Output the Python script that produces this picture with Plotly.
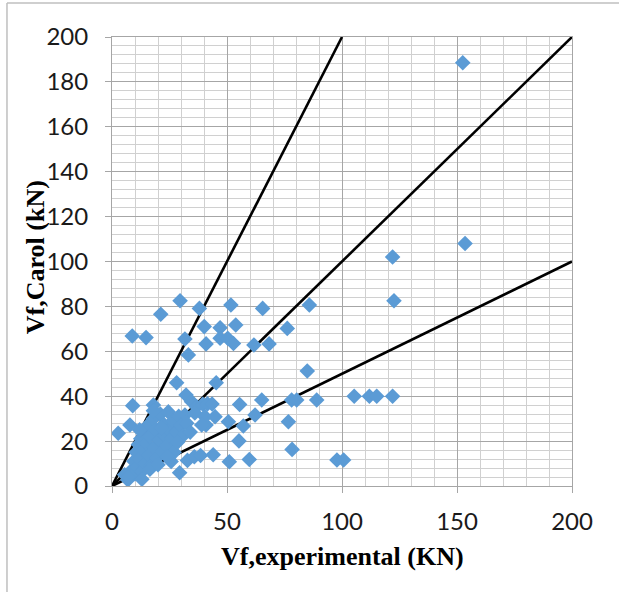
import plotly.graph_objects as go

# Experimental vs. predicted (Carol model) shear contribution, kN
vf_experimental = [
    152.5, 153.5, 122.0, 122.6, 105.3, 111.9, 115.1, 122.0,
    65.5, 85.8, 76.2, 61.7, 68.3, 84.9, 65.1, 78.1, 80.3, 89.0,
    62.2, 76.7, 78.3, 97.8, 100.7, 59.7,
    29.6, 38.0, 51.7, 21.2, 8.8, 14.8, 31.7, 40.1, 47.0, 53.8,
    40.9, 47.0, 50.3, 52.8, 33.2, 28.1, 45.3,
    9.0, 18.0, 32.2, 34.6, 36.8, 39.5, 41.5, 43.5, 55.5,
    50.6, 57.1, 55.2, 40.9, 7.8, 2.7, 51.0, 29.4, 6.9, 25.7,
    32.8, 35.8, 38.5, 44.0, 31.7, 36.0, 40.4, 44.8, 39.0,
    8.5, 9.5, 10.0, 10.5, 11.0, 11.5, 12.0, 12.5, 13.0, 13.5,
    14.0, 14.5, 15.0, 15.5, 16.0, 16.5, 17.0, 18.0, 18.5, 19.0,
    19.5, 20.5, 21.0, 22.0, 22.5, 23.0, 24.0, 24.5, 25.0, 26.0,
    26.5, 27.0, 28.0, 29.0, 30.0, 31.0, 32.5, 34.0, 5.5, 7.0,
    13.0, 16.5, 20.0, 18.0, 21.5, 24.0, 28.5, 12.0,
]
vf_carol = [
    188.5, 108.0, 102.0, 82.5, 40.0, 40.0, 40.0, 40.0,
    79.1, 80.6, 70.2, 62.8, 63.3, 51.2, 38.3, 38.3, 38.3, 38.3,
    31.6, 28.6, 16.3, 11.6, 11.6, 11.8,
    82.5, 79.1, 80.6, 76.5, 66.8, 66.1, 65.5, 71.0, 70.5, 71.7,
    63.3, 65.8, 65.8, 63.5, 58.4, 46.0, 46.0,
    35.8, 36.1, 40.5, 37.5, 35.3, 36.4, 36.6, 36.5, 36.3,
    28.6, 26.7, 20.1, 27.2, 27.2, 23.5, 10.8, 5.9, 2.7, 10.9,
    11.4, 13.0, 13.6, 13.9, 31.6, 32.5, 30.9, 30.9, 27.2,
    7.0, 11.0, 5.5, 15.0, 8.5, 18.5, 12.0, 21.0, 6.5, 16.0,
    24.0, 10.0, 19.0, 27.0, 13.5, 22.0, 9.0, 30.0, 17.0, 25.0,
    12.5, 20.5, 32.0, 15.5, 27.5, 22.5, 18.0, 33.0, 25.0, 21.0,
    29.0, 15.0, 24.0, 31.0, 27.0, 22.5, 28.0, 24.0, 5.0, 4.0,
    3.0, 7.5, 9.5, 33.5, 26.0, 13.0, 19.5, 25.0,
]

# Reference ratio lines: predicted = slope * experimental
ratio_slopes = [2.0, 1.0, 0.5]
axis_max = 200
x_ticks = [0, 50, 100, 150, 200]
y_ticks = [0, 20, 40, 60, 80, 100, 120, 140, 160, 180, 200]

fig = go.Figure()

for s in ratio_slopes:
    x_end = min(axis_max, axis_max / s)
    fig.add_trace(go.Scatter(
        x=[0, x_end], y=[0, s * x_end], mode="lines",
        line=dict(color="black", width=2.6),
        showlegend=False, hoverinfo="skip",
    ))

fig.add_trace(go.Scatter(
    x=vf_experimental, y=vf_carol, mode="markers",
    marker=dict(symbol="diamond", size=12, color="#5B9BD5",
                line=dict(width=0)),
    showlegend=False,
))

tick_font = dict(family="Lato, 'Open Sans', sans-serif", size=24, color="#1a1a1a")
major_grid = "#A6A6A6"
minor_grid = "#D0D0D0"

fig.update_xaxes(
    range=[0, axis_max], tickvals=x_ticks, ticks="outside", ticklen=6,
    tickcolor=major_grid, showgrid=True, gridcolor=major_grid, gridwidth=1,
    minor=dict(dtick=10, tick0=0, showgrid=True, gridcolor=minor_grid, gridwidth=1),
    zeroline=False, showline=True, linecolor=major_grid, linewidth=1, mirror=True,
    tickfont=tick_font, ticklabelstandoff=8,
)
fig.update_yaxes(
    range=[0, axis_max], tickvals=y_ticks, ticks="outside", ticklen=6,
    tickcolor=major_grid, showgrid=True, gridcolor=major_grid, gridwidth=1,
    minor=dict(dtick=4, tick0=0, showgrid=True, gridcolor=minor_grid, gridwidth=1),
    zeroline=False, showline=True, linecolor=major_grid, linewidth=1, mirror=True,
    tickfont=tick_font, ticklabelstandoff=12,
)

title_font = dict(family="'Liberation Serif', 'Times New Roman', serif",
                  size=26, color="black")

fig.update_layout(
    width=619, height=592,
    margin=dict(l=112, r=47, t=37, b=106),
    paper_bgcolor="white", plot_bgcolor="white",
    annotations=[
        dict(text="<b>Vf,experimental (KN)</b>", xref="paper", yref="paper",
             x=0.5, y=-0.158, xanchor="center", yanchor="middle",
             showarrow=False, font=title_font),
        dict(text="<b>Vf,Carol (kN)</b>", xref="paper", yref="paper",
             x=-0.167, y=0.51, xanchor="center", yanchor="middle",
             textangle=-90, showarrow=False, font=title_font),
    ],
    shapes=[
        # chart-area frame (left and top edges)
        dict(type="line", xref="paper", yref="paper",
             x0=-0.2283, x1=-0.2283, y0=-0.25, y1=1.0757,
             line=dict(color="#BFBFBF", width=1.5)),
        dict(type="line", xref="paper", yref="paper",
             x0=-0.2283, x1=1.2, y0=1.0757, y1=1.0757,
             line=dict(color="#BFBFBF", width=1.5)),
    ],
)

fig.write_html("out.html")
